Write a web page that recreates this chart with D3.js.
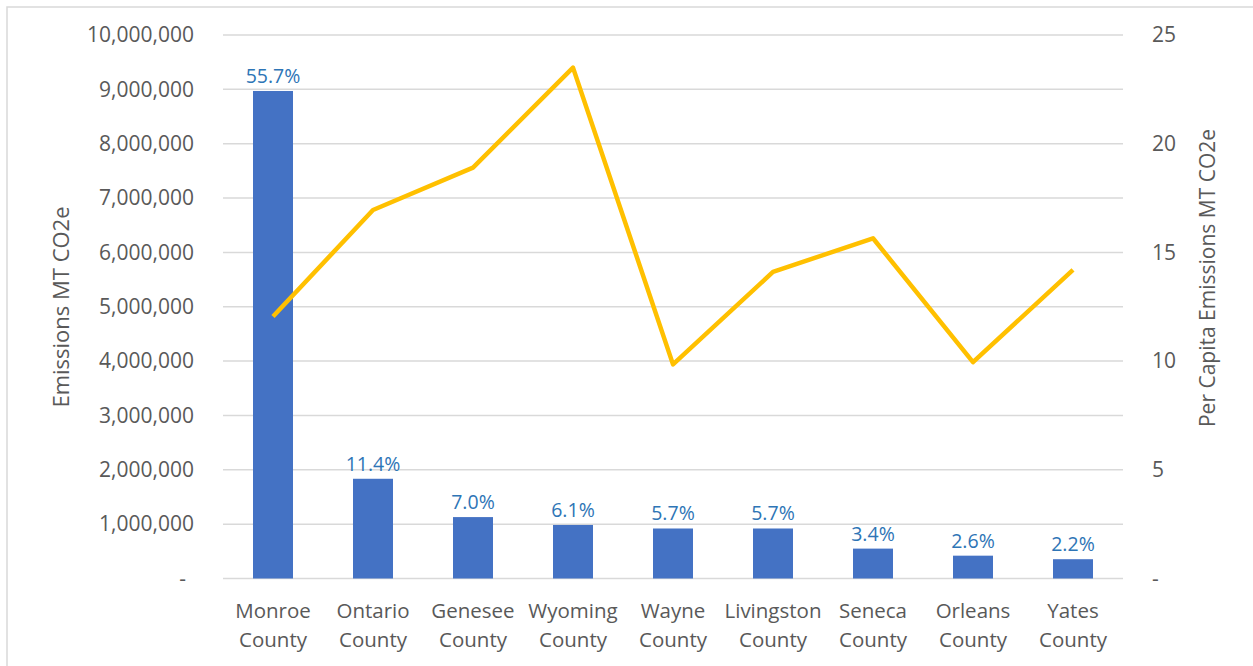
<!DOCTYPE html>
<meta charset="utf-8">
<style>
body { margin: 0; background: #fff; }
svg text { font-family: "Open Sans", sans-serif; fill: #595959; }
.grid line { stroke: #d9d9d9; stroke-width: 1.5; }
.bar { fill: #4472c4; }
.label { fill: #2e75b6; font-size: 19.5px; }
</style>
<body>
<script src="https://d3js.org/d3.v7.min.js"></script>
<script>

const counties = ["Monroe County", "Ontario County", "Genesee County", "Wyoming County", "Wayne County",
                  "Livingston County", "Seneca County", "Orleans County", "Yates County"];
const emissions = [8970000, 1835000, 1130000, 985000, 920000, 920000, 550000, 420000, 355000];
const shares = ["55.7%", "11.4%", "7.0%", "6.1%", "5.7%", "5.7%", "3.4%", "2.6%", "2.2%"];
const perCapita = [12.05, 16.95, 18.9, 23.5, 9.85, 14.1, 15.65, 9.95, 14.2];
const leftTicks = [0, 1000000, 2000000, 3000000, 4000000, 5000000, 6000000, 7000000, 8000000, 9000000, 10000000];
const rightTicks = [0, 5, 10, 15, 20, 25];

var W = 1253, H = 666;
var plotLeft = 223, plotRight = 1123, plotTop = 35, plotBottom = 578.5;

var svg = d3.select("body").append("svg")
    .attr("width", W)
    .attr("height", H);

// chart border
svg.append("rect")
    .attr("x", 7).attr("y", 7)
    .attr("width", 1270).attr("height", 700)
    .attr("fill", "none")
    .attr("stroke", "#d9d9d9")
    .attr("stroke-width", 1.5);

var x = d3.scaleBand()
    .domain(counties)
    .range([plotLeft, plotRight])
    .paddingInner(0.6)
    .paddingOuter(0.3);

var y = d3.scaleLinear().domain([0, 10000000]).range([plotBottom, plotTop]);
var y2 = d3.scaleLinear().domain([0, 25]).range([plotBottom, plotTop]);

// gridlines
svg.append("g")
    .attr("class", "grid")
    .selectAll("line")
    .data(leftTicks)
    .enter().append("line")
    .attr("x1", plotLeft)
    .attr("x2", plotRight)
    .attr("y1", function(d) { return y(d); })
    .attr("y2", function(d) { return y(d); });

// left axis
var yAxis = d3.axisLeft(y)
    .tickValues(leftTicks)
    .tickSize(0)
    .tickPadding(29)
    .tickFormat(function(d) { return d === 0 ? "-" : d3.format(",")(d); });

svg.append("g")
    .attr("transform", "translate(" + plotLeft + ",0)")
    .call(yAxis)
    .call(g => g.select(".domain").remove())
    .call(g => g.selectAll("text")
        .attr("font-size", "21px")
        .attr("fill", "#595959")
        .attr("dx", function(d) { return d === 0 ? -8 : 0; }));

// right axis
var yAxis2 = d3.axisRight(y2)
    .tickValues(rightTicks)
    .tickSize(0)
    .tickPadding(29)
    .tickFormat(function(d) { return d === 0 ? "-" : d; });

svg.append("g")
    .attr("transform", "translate(" + plotRight + ",0)")
    .call(yAxis2)
    .call(g => g.select(".domain").remove())
    .call(g => g.selectAll("text")
        .attr("font-size", "21px")
        .attr("fill", "#595959"));

// bars
svg.selectAll(".bar")
    .data(counties)
    .enter().append("rect")
    .attr("class", "bar")
    .attr("x", function(d) { return x(d); })
    .attr("width", x.bandwidth())
    .attr("y", function(d, i) { return y(emissions[i]); })
    .attr("height", function(d, i) { return plotBottom - y(emissions[i]); });

// share labels
svg.selectAll(".label")
    .data(counties)
    .enter().append("text")
    .attr("class", "label")
    .attr("text-anchor", "middle")
    .attr("x", function(d) { return x(d) + x.bandwidth() / 2; })
    .attr("y", function(d, i) { return y(emissions[i]) - 8; })
    .text(function(d, i) { return shares[i]; });

// per capita line
var line = d3.line()
    .x(function(d, i) { return x(counties[i]) + x.bandwidth() / 2; })
    .y(function(d) { return y2(d); });

svg.append("path")
    .datum(perCapita)
    .attr("fill", "none")
    .attr("stroke", "#ffc000")
    .attr("stroke-width", 4.5)
    .attr("stroke-linejoin", "round")
    .attr("d", line);

// category labels
var cat = svg.selectAll(".cat")
    .data(counties)
    .enter().append("text")
    .attr("class", "cat")
    .attr("text-anchor", "middle")
    .attr("font-size", "20.5px");

cat.append("tspan")
    .attr("x", function(d) { return x(d) + x.bandwidth() / 2; })
    .attr("y", 618)
    .text(function(d) { return d.split(" ")[0]; });

cat.append("tspan")
    .attr("x", function(d) { return x(d) + x.bandwidth() / 2; })
    .attr("y", 647)
    .text(function(d) { return d.split(" ")[1]; });

// axis titles
svg.append("text")
    .attr("transform", "translate(69,307) rotate(-90)")
    .attr("text-anchor", "middle")
    .attr("font-size", "22px")
    .text("Emissions MT CO2e");

svg.append("text")
    .attr("transform", "translate(1215,278) rotate(-90)")
    .attr("text-anchor", "middle")
    .attr("font-size", "21px")
    .text("Per Capita Emissions MT CO2e");
</script>
